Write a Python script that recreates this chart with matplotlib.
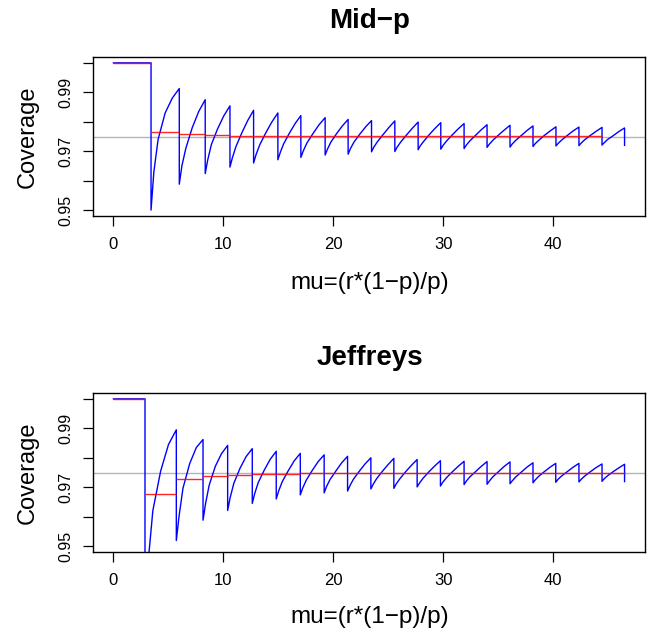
import matplotlib
matplotlib.use("Agg")
import matplotlib.pyplot as plt

plt.rcParams['font.family'] = ['Liberation Sans', 'DejaVu Sans']

# ---------------- data: Mid-p panel ----------------
# coverage read at fractions 0, 0.1, 0.25, 0.5, 0.75, 1 of each interval between jumps
midp_start_cov = 1.0
midp_jumps = [3.42, 5.99, 8.35, 10.60, 12.75, 14.96, 17.05, 19.26, 21.35, 23.48,
              25.60, 27.72, 29.78, 31.90, 33.99, 36.08, 38.17, 40.26, 42.35, 44.45]
midp_end = 46.5
midp_low = [0.9500, 0.9588, 0.9624, 0.9646, 0.9660, 0.9671, 0.9679, 0.9687, 0.9690, 0.9698,
            0.9699, 0.9705, 0.9707, 0.9709, 0.9713, 0.9714, 0.9716, 0.9718, 0.9719, 0.9721]
midp_p10 = [0.9630, 0.9650, 0.9670, 0.9677, 0.9688, 0.9695, 0.9701, 0.9707, 0.9709, 0.9714,
            0.9714, 0.9719, 0.9720, 0.9721, 0.9724, 0.9725, 0.9726, 0.9727, 0.9728, 0.9729]
midp_q1 = [0.9740, 0.9709, 0.9723, 0.9715, 0.9721, 0.9725, 0.9728, 0.9731, 0.9731, 0.9732,
           0.9731, 0.9734, 0.9735, 0.9735, 0.9737, 0.9737, 0.9737, 0.9738, 0.9739, 0.9740]
midp_mid = [0.9830, 0.9780, 0.9776, 0.9762, 0.9762, 0.9761, 0.9760, 0.9760, 0.9758, 0.9757,
            0.9755, 0.9757, 0.9756, 0.9754, 0.9755, 0.9754, 0.9754, 0.9754, 0.9754, 0.9753]
midp_q3 = [0.9880, 0.9835, 0.9820, 0.9804, 0.9799, 0.9794, 0.9790, 0.9786, 0.9783, 0.9781,
           0.9778, 0.9778, 0.9776, 0.9773, 0.9772, 0.9771, 0.9769, 0.9769, 0.9768, 0.9767]
midp_high = [0.9913, 0.9875, 0.9854, 0.9839, 0.9830, 0.9821, 0.9814, 0.9808, 0.9804, 0.9803,
             0.9799, 0.9797, 0.9794, 0.9790, 0.9788, 0.9786, 0.9783, 0.9782, 0.9781, 0.9779]
midp_end_low = 0.9720
# average coverage per interval: [0, j1], [j1, j2], ..., [j19, j20]
midp_avg = [1.0, 0.9764, 0.9758, 0.9756, 0.9753, 0.9752, 0.9752, 0.9752, 0.9751, 0.9751,
            0.9751, 0.9751, 0.9751, 0.9751, 0.9751, 0.9751, 0.9751, 0.9751, 0.9751, 0.9751]

# ---------------- data: Jeffreys panel ----------------
jeff_start_cov = 1.0
jeff_jumps = [2.87, 5.72, 8.15, 10.39, 12.63, 14.81, 17.00, 19.17, 21.30, 23.42,
              25.51, 27.63, 29.75, 31.90, 33.99, 36.08, 38.17, 40.24, 42.35, 44.45]
jeff_end = 46.5
jeff_low = [0.9350, 0.9519, 0.9588, 0.9621, 0.9645, 0.9660, 0.9674, 0.9681, 0.9687, 0.9694,
            0.9696, 0.9701, 0.9704, 0.9709, 0.9710, 0.9712, 0.9715, 0.9717, 0.9718, 0.9720]
jeff_p10 = [0.9445, 0.9600, 0.9643, 0.9664, 0.9678, 0.9687, 0.9697, 0.9702, 0.9705, 0.9710,
            0.9711, 0.9714, 0.9717, 0.9721, 0.9721, 0.9722, 0.9725, 0.9727, 0.9727, 0.9729]
jeff_q1 = [0.9620, 0.9697, 0.9707, 0.9713, 0.9716, 0.9719, 0.9724, 0.9726, 0.9727, 0.9729,
           0.9728, 0.9730, 0.9732, 0.9735, 0.9735, 0.9735, 0.9737, 0.9738, 0.9738, 0.9739]
jeff_mid = [0.9755, 0.9780, 0.9771, 0.9764, 0.9758, 0.9756, 0.9757, 0.9755, 0.9754, 0.9754,
            0.9752, 0.9752, 0.9752, 0.9753, 0.9753, 0.9752, 0.9753, 0.9753, 0.9753, 0.9753]
jeff_q3 = [0.9845, 0.9835, 0.9814, 0.9804, 0.9795, 0.9790, 0.9787, 0.9783, 0.9779, 0.9777,
           0.9774, 0.9772, 0.9771, 0.9771, 0.9771, 0.9769, 0.9768, 0.9768, 0.9767, 0.9766]
jeff_high = [0.9895, 0.9862, 0.9842, 0.9831, 0.9822, 0.9815, 0.9810, 0.9805, 0.9800, 0.9798,
             0.9794, 0.9790, 0.9788, 0.9787, 0.9786, 0.9783, 0.9781, 0.9781, 0.9779, 0.9778]
jeff_end_low = 0.9719
jeff_avg = [1.0, 0.9678, 0.9727, 0.9738, 0.9742, 0.9744, 0.9746, 0.9747, 0.9748, 0.9748,
            0.9748, 0.9749, 0.9749, 0.9749, 0.9749, 0.9749, 0.9749, 0.9749, 0.9749, 0.9749, 0.9749]

nominal = 0.975
sample_fracs = [0.0, 0.1, 0.25, 0.5, 0.75, 1.0]
x_ticks = [0, 10, 20, 30, 40]
y_ticks = [0.95, 0.96, 0.97, 0.98, 0.99, 1.00]
y_ticklabels = ['0.95', '', '0.97', '', '0.99', '']
x_label = 'mu=(r*(1\u2212p)/p)'
y_label = 'Coverage'

W, H = 648, 637
fig = plt.figure(figsize=(W / 100, H / 100), dpi=100)


def px_rect(left, top, right, bottom):
    return [left / W, 1 - bottom / H, (right - left) / W, (bottom - top) / H]


def coverage_path(start, jumps, end, cols, end_low):
    xs = [0.0, jumps[0]]
    ys = [start, start]
    bounds = list(jumps) + [end]
    for i in range(len(jumps)):
        a, b = bounds[i], bounds[i + 1]
        for f, col in zip(sample_fracs, cols):
            xs.append(a + f * (b - a))
            ys.append(col[i])
    xs.append(end)
    ys.append(end_low)
    return xs, ys


def panel(rect, title, title_y, start, jumps, end, cols, end_low, avg, xlab_y):
    ax = fig.add_axes(rect)
    xs, ys = coverage_path(start, jumps, end, cols, end_low)
    ax.plot(xs, ys, color='#0000ff', lw=1.0, solid_joinstyle='round', zorder=3)
    bounds = [0.0] + list(jumps) + [end]
    for i, v in enumerate(avg):
        ax.plot([bounds[i], bounds[i + 1]], [v, v], color='#ff0000', lw=1.0,
                alpha=0.85, solid_capstyle='butt', zorder=4)
    ax.axhline(nominal, color='#b4b4b4', lw=1.0, zorder=2)
    pad = 0.04 * end
    ax.set_xlim(-pad, end + pad)
    ax.set_ylim(0.948, 1.002)
    ax.set_xticks(x_ticks)
    ax.set_yticks(y_ticks)
    ax.set_yticklabels(y_ticklabels, rotation=90, va='center')
    ax.tick_params(axis='x', direction='out', length=7, width=0.9, labelsize=12, pad=8)
    ax.tick_params(axis='y', direction='out', length=7, width=0.9, labelsize=11.5, pad=7)
    for s in ax.spines.values():
        s.set_linewidth(1.0)
    fig.text(370 / W, 1 - title_y / H, title, ha='center', va='center',
             fontsize=20, fontweight='bold')
    fig.text(370 / W, 1 - xlab_y / H, x_label, ha='center', va='center', fontsize=17.5)
    cy = (rect[1] + rect[3] / 2)
    fig.text(28 / W, cy, y_label, rotation=90, ha='center', va='center', fontsize=17)
    return ax


panel(px_rect(93, 57, 645, 216), 'Mid\u2212p', 21, midp_start_cov, midp_jumps, midp_end,
      [midp_low, midp_p10, midp_q1, midp_mid, midp_q3, midp_high], midp_end_low, midp_avg, 283)
panel(px_rect(93, 393, 645, 552), 'Jeffreys', 358, jeff_start_cov, jeff_jumps, jeff_end,
      [jeff_low, jeff_p10, jeff_q1, jeff_mid, jeff_q3, jeff_high], jeff_end_low, jeff_avg, 617)

fig.savefig('out.png', dpi=100)
